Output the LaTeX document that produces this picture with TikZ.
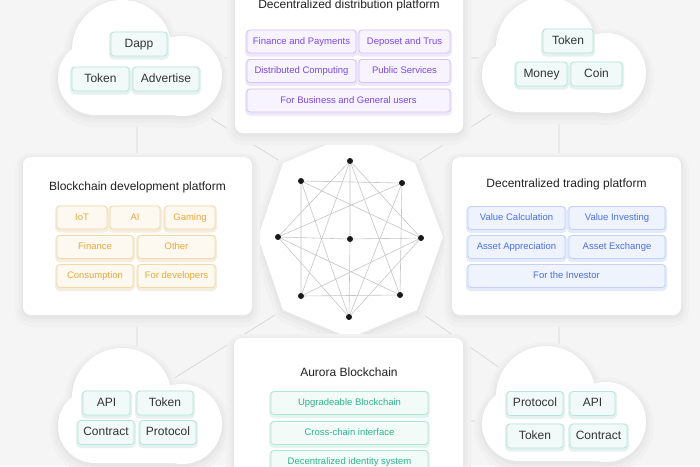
\documentclass[tikz,border=0pt]{standalone}
\usepackage{fontspec}
\setmainfont{Liberation Sans}
\definecolor{bg}{HTML}{F5F5F5}
\definecolor{shA}{HTML}{F1F1F1}
\definecolor{shB}{HTML}{ECECEC}
\definecolor{shC}{HTML}{E6E6E6}
\definecolor{wireC}{HTML}{D2D2D2}
\definecolor{meshC}{HTML}{C6C6C6}
\definecolor{ink}{HTML}{222222}
\definecolor{vioT}{HTML}{7B47E0}
\definecolor{vioB}{HTML}{D3C3F5}
\definecolor{vioF}{HTML}{F8F4FF}
\definecolor{vioG}{HTML}{EEE6FB}
\definecolor{ambT}{HTML}{E8A83A}
\definecolor{ambB}{HTML}{F2D9A6}
\definecolor{ambF}{HTML}{FDF9F1}
\definecolor{ambG}{HTML}{F5EDDD}
\definecolor{bluT}{HTML}{4B6FE0}
\definecolor{bluB}{HTML}{C3D1F6}
\definecolor{bluF}{HTML}{EEF3FE}
\definecolor{bluG}{HTML}{E3EAFA}
\definecolor{grnT}{HTML}{2BB48D}
\definecolor{grnB}{HTML}{B0E6D6}
\definecolor{grnF}{HTML}{F2FBF8}
\definecolor{grnG}{HTML}{E3F3EE}
\definecolor{mntT}{HTML}{333333}
\definecolor{mntB}{HTML}{B8E5DA}
\definecolor{mntF}{HTML}{F1FAF8}
\definecolor{mntG}{HTML}{E5F1EE}
\tikzset{
  soft/.style={
    preaction={draw=shA, fill=shA, line width=16pt, line join=round, transform canvas={yshift=-4pt}},
    preaction={draw=shB, fill=shB, line width=9pt, line join=round, transform canvas={yshift=-3pt}},
    preaction={draw=shC, fill=shC, line width=3pt, line join=round, transform canvas={yshift=-2pt}}},
  panel/.style={soft, fill=white, rounded corners=8pt, inner sep=0pt},
  head/.style={text=ink, font=\fontsize{12}{14}\selectfont},
  tag/.style={draw=#1B, fill=#1F, text=#1T, line width=0.8pt, rounded corners=3pt,
    preaction={draw=#1G, line width=4pt, transform canvas={yshift=-1.5pt}},
    minimum height=23, inner sep=0pt, text height=7pt, text depth=2pt,
    font=\fontsize{9.5}{11}\selectfont},
  chip/.style={tag=mnt, minimum height=24, text height=8.6pt, text depth=2.5pt,
    font=\fontsize{12}{14}\selectfont},
  wire/.style={draw=wireC, line width=0.6pt},
  mesh/.style={draw=meshC, line width=0.6pt},
  dot/.style={circle, fill=black!90, inner sep=0pt, minimum size=6},
  cloudpic/.pic={
    \path[soft, fill=white] (37,78) circle[radius=37] (64,50) circle[radius=50]
      (124,76) circle[radius=40] (124,70) -- (124,115) -- (37,115) -- (37,70) -- cycle;}
}
\begin{document}
\begin{tikzpicture}[x=1pt, y=-1pt]
\fill[bg] (0,0) rectangle (700,466);
\useasboundingbox (0,0) rectangle (700,466);

\foreach \n/\x/\y in {o1/350/135, o2/415/163, o3/443/237, o4/417/310,
    o5/350/338, o6/283/310, o7/258/237, o8/283/163}
  \coordinate (\n) at (\x,\y);
\coordinate (oc) at (350,237);
\coordinate (pDist) at (349,56);
\coordinate (pDev) at (137.5,236);
\coordinate (pTrade) at (566.5,236);
\coordinate (pAur) at (348.5,418);
\coordinate (cTL) at (137,58);
\coordinate (cTR) at (559,58);
\coordinate (cBL) at (137,409);
\coordinate (cBR) at (559,421);
\coordinate (dTL) at (170,93);
\coordinate (dTR) at (530,89);
\coordinate (dBL) at (160,387);
\coordinate (dBR) at (540,396);

\draw[wire] (cTL) -- (cTL -| pDist) (cTR) -- (cTR -| pDist)
  (cTL) -- (cTL |- pDev) (cBL) -- (cBL |- pDev)
  (cTR) -- (cTR |- pTrade) (cBR) -- (cBR |- pTrade)
  (cBL) -- (cBL -| pAur) (cBR) -- (cBR -| pAur)
  (oc) -- (oc -| pDev) (oc) -- (oc -| pTrade)
  (o8) -- (dTL) (o2) -- (dTR) (o6) -- (dBL) (o4) -- (dBR);

\path[soft, fill=white] (o1) -- (o2) -- (o3) -- (o4) -- (o5) -- (o6) -- (o7) -- (o8) -- cycle;

\pic (cloudTL) at (58,0) {cloudpic};
\pic (cloudTR) at (482,-3) {cloudpic};
\pic (cloudBL) at (58,348) {cloudpic};
\pic (cloudBR) at (482,346) {cloudpic};

\node[panel, minimum width=228, minimum height=154] (dist) at (pDist) {};
\node[panel, minimum width=229, minimum height=158] (dev) at (pDev) {};
\node[panel, minimum width=229, minimum height=158] (trade) at (pTrade) {};
\node[panel, minimum width=229, minimum height=160] (aur) at (pAur) {};

\node[head] (distT) at (349,5.5) {Decentralized distribution platform};
\node[head] (devT) at (137.5,187.5) {Blockchain development platform};
\node[head] (tradeT) at (566.5,184) {Decentralized trading platform};
\node[head] (aurT) at (349,372.5) {Aurora Blockchain};

\node[tag=vio, minimum width=109] (finpay) at (301.5,41.5) {Finance and Payments};
\node[tag=vio, minimum width=91] (deposet) at (404.5,41.5) {Deposet and Trus};
\node[tag=vio, minimum width=109] (distcomp) at (301.5,71) {Distributed Computing};
\node[tag=vio, minimum width=91] (pubserv) at (404.5,71) {Public Services};
\node[tag=vio, minimum width=203] (business) at (348.5,100.5) {For Business and General users};

\node[tag=amb, minimum width=50] (iot) at (82,217.5) {IoT};
\node[tag=amb, minimum width=50] (ai) at (135,217.5) {AI};
\node[tag=amb, minimum width=50] (gaming) at (190,217.5) {Gaming};
\node[tag=amb, minimum width=76] (finance) at (95,247) {Finance};
\node[tag=amb, minimum width=77] (other) at (176.5,247) {Other};
\node[tag=amb, minimum width=76] (consum) at (95,276) {Consumption};
\node[tag=amb, minimum width=77] (fordev) at (176.5,276) {For developers};

\node[tag=blu, minimum width=97] (valcalc) at (516.5,218) {Value Calculation};
\node[tag=blu, minimum width=96] (valinv) at (617,218) {Value Investing};
\node[tag=blu, minimum width=97] (assapp) at (516.5,247) {Asset Appreciation};
\node[tag=blu, minimum width=96] (assex) at (617,247) {Asset Exchange};
\node[tag=blu, minimum width=197] (investor) at (566.5,276) {For the Investor};

\node[tag=grn, minimum width=157] (upgrade) at (349.5,403) {Upgradeable Blockchain};
\node[tag=grn, minimum width=157] (cross) at (349.5,433) {Cross-chain interface};
\node[tag=grn, minimum width=157] (identity) at (349.5,462) {Decentralized identity system};

\node[chip, minimum width=56] (dapp) at (139,44) {Dapp};
\node[chip, minimum width=57] (tokenA) at (100.5,79) {Token};
\node[chip, minimum width=66] (advert) at (166,79) {Advertise};

\node[chip, minimum width=50] (tokenB) at (568,41) {Token};
\node[chip, minimum width=51] (money) at (541.5,74) {Money};
\node[chip, minimum width=51] (coin) at (596.5,74) {Coin};

\node[chip, minimum width=47] (apiC) at (106.5,403) {API};
\node[chip, minimum width=56] (tokenC) at (165,403) {Token};
\node[chip, minimum width=56] (contractC) at (106,432.5) {Contract};
\node[chip, minimum width=56] (protocolC) at (168,432.5) {Protocol};

\node[chip, minimum width=56] (protocolD) at (535,403.5) {Protocol};
\node[chip, minimum width=45] (apiD) at (592.5,403.5) {API};
\node[chip, minimum width=56] (tokenD) at (535,436) {Token};
\node[chip, minimum width=57] (contractD) at (598.5,436) {Contract};

\foreach \n/\x/\y in {n0/350/161, n1/402/183, n2/421/238, n3/400/295,
    n4/349/317, n5/301/296, n6/278/237, n7/301/181}
  \node[dot] (\n) at (\x,\y) {};
\node[dot] (nc) at (350,239) {};
\foreach \a in {0,...,7}{
  \pgfmathtruncatemacro\b{mod(\a+2,8)}
  \pgfmathtruncatemacro\c{mod(\a+3,8)}
  \draw[mesh] (n\a) -- (n\b) (n\a) -- (n\c);
}
\draw[mesh] (n0) -- (nc) -- (n4) (n6) -- (nc) -- (n2);
\end{tikzpicture}
\end{document}
